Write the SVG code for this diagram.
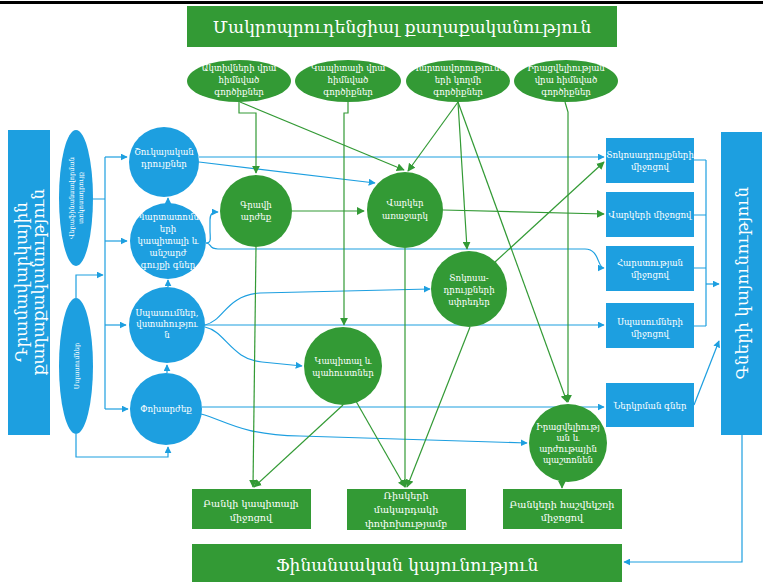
<svg xmlns="http://www.w3.org/2000/svg" width="763" height="582" viewBox="0 0 763 582">
<defs>
<style>
.b{fill:#1d9fe0}
.g{fill:#339a35}
.t{font-family:"DejaVu Serif","DejaVu Sans",sans-serif;fill:#fff;text-anchor:middle}
.s9{font-size:8.6px}
.s10{font-size:9.6px}
.s7{font-size:6.6px}
.big{font-size:17px}
.cb{stroke:#1d9fe0;fill:none;stroke-width:1.2}
.cg{stroke:#339a35;fill:none;stroke-width:1.2}
</style>
<marker id="ab" viewBox="0 0 10 10" refX="9" refY="5" markerWidth="7" markerHeight="7" markerUnits="userSpaceOnUse" orient="auto"><path d="M0,0L10,5L0,10z" fill="#1d9fe0"/></marker>
<marker id="ag" viewBox="0 0 10 10" refX="9" refY="5" markerWidth="8" markerHeight="8" markerUnits="userSpaceOnUse" orient="auto"><path d="M0,0L10,5L0,10z" fill="#339a35"/></marker>
</defs>
<rect x="0" y="1" width="763" height="3" fill="#000"/>

<g id="connectors">
<g class="cb">
<path d="M93,199H105M105,157V409"/>
<path d="M105,157H127" marker-end="url(#ab)"/>
<path d="M105,241H127" marker-end="url(#ab)"/>
<path d="M105,325H126" marker-end="url(#ab)"/>
<path d="M105,409H128" marker-end="url(#ab)"/>
<path d="M76,298V275H103" marker-end="url(#ab)"/>
<path d="M76,434V457H168V447" marker-end="url(#ab)"/>
<path d="M168,204V198" marker-end="url(#ab)"/>
<path d="M168,287V280" marker-end="url(#ab)"/>
<path d="M167,373V365" marker-end="url(#ab)"/>
<path d="M199,157H604" marker-end="url(#ab)"/>
<path d="M199,162L375,183" marker-end="url(#ab)"/>
<path d="M206,243C212,243 210,238 210,230V220C210,214 212,212 218,212" marker-end="url(#ab)"/>
<path d="M206,243C212,243 208,249 218,249L585,249C600,249 597,268 604,268" marker-end="url(#ab)"/>
<path d="M205,325C225,320 225,296 260,293L430,289" marker-end="url(#ab)"/>
<path d="M205,325H604" marker-end="url(#ab)"/>
<path d="M205,327C225,331 232,360 262,362L302,366" marker-end="url(#ab)"/>
<path d="M202,407H604" marker-end="url(#ab)"/>
<path d="M201,414C225,420 240,435 300,436L527,443" marker-end="url(#ab)"/>
<path d="M694,160H706M694,215H706M694,268H706M694,326H706M706,160V326"/>
<path d="M706,284H719" marker-end="url(#ab)"/>
<path d="M694,405L719,341" marker-end="url(#ab)"/>
<path d="M742,435V562H624" marker-end="url(#ab)"/>
</g>
<g class="cg">
<path d="M239,102V113H256V173" marker-end="url(#ag)"/>
<path d="M240,102L404,170" marker-end="url(#ag)"/>
<path d="M348,102V113H344V325" marker-end="url(#ag)"/>
<path d="M458,102L408,171" marker-end="url(#ag)"/>
<path d="M458,102L467,249" marker-end="url(#ag)"/>
<path d="M458,102L567,402" marker-end="url(#ag)"/>
<path d="M565,102L568,112V402" marker-end="url(#ag)"/>
<path d="M495,262L604,162" marker-end="url(#ag)"/>
<path d="M292,211H364" marker-end="url(#ag)"/>
<path d="M443,210L604,214" marker-end="url(#ag)"/>
<path d="M256,247L253,487" marker-end="url(#ag)"/>
<path d="M343,405L254,487" marker-end="url(#ag)"/>
<path d="M405,248V487" marker-end="url(#ag)"/>
<path d="M349,389L405,487" marker-end="url(#ag)"/>
<path d="M470,327L407,487" marker-end="url(#ag)"/>
<path d="M562,481V488" marker-end="url(#ag)"/>
</g>
</g>

<g id="macro-policy"><rect class="g" x="187" y="6" width="430" height="41"/><text class="t big" x="402" y="33">Մակրոպրուդենցիալ քաղաքականություն</text></g>

<g id="asset-tools"><ellipse class="g" cx="239" cy="81" rx="52" ry="21"/><text class="t s9" x="239" y="71">Ակտիվների վրա</text><text class="t s9" x="239" y="83">հիմնված</text><text class="t s9" x="239" y="95">գործիքներ</text></g>
<g id="capital-tools"><ellipse class="g" cx="348" cy="81" rx="53" ry="21"/><text class="t s9" x="348" y="71">Կապիտալի վրա</text><text class="t s9" x="348" y="83">հիմնված</text><text class="t s9" x="348" y="95">գործիքներ</text></g>
<g id="liability-tools"><ellipse class="g" cx="458" cy="81" rx="52" ry="21"/><text class="t s9" x="458" y="71">Պարտավորությունն</text><text class="t s9" x="458" y="83">երի կողմի</text><text class="t s9" x="458" y="95">գործիքներ</text></g>
<g id="liquidity-tools"><ellipse class="g" cx="566" cy="81" rx="52" ry="21"/><text class="t s9" x="566" y="71">Իրացվելիության</text><text class="t s9" x="566" y="83">վրա հիմնված</text><text class="t s9" x="566" y="95">գործիքներ</text></g>

<g id="monetary-policy"><rect class="b" x="8" y="130" width="42" height="305"/><g transform="translate(29,282) rotate(-90)"><text class="t big" x="0" y="-2">Դրամավարկային</text><text class="t big" x="0" y="15">քաղաքականություն</text></g></g>
<g id="refinancing-rate"><ellipse class="b" cx="76" cy="198" rx="17" ry="68"/><g transform="translate(76,198) rotate(-90)"><text class="t s7" x="0" y="-2">Վերաֆինանսավորման</text><text class="t s7" x="0" y="7">տոկոսադրույք</text></g></g>
<g id="expectations"><ellipse class="b" cx="76" cy="366" rx="17" ry="68"/><g transform="translate(76,366) rotate(-90)"><text class="t s7" x="0" y="2.5">Սպասումներ</text></g></g>

<g id="market-rates"><circle class="b" cx="164" cy="162" r="35"/><text class="t s9" x="164" y="155">Շուկայական</text><text class="t s9" x="164" y="167">դրույքներ</text></g>
<g id="asset-prices"><circle class="b" cx="168" cy="241" r="38"/><text class="t s9" x="168" y="220">Պարտատոմս</text><text class="t s9" x="168" y="232">երի</text><text class="t s9" x="168" y="244">կապիտալի և</text><text class="t s9" x="168" y="256">անշարժ</text><text class="t s9" x="168" y="268">գույքի գներ</text></g>
<g id="expectations-confidence"><circle class="b" cx="167" cy="325" r="38"/><text class="t s9" x="167" y="316">Սպասումներ,</text><text class="t s9" x="167" y="327">վստահությու</text><text class="t s9" x="167" y="338">ն</text></g>
<g id="exchange-rate"><circle class="b" cx="166" cy="409" r="36"/><text class="t s9" x="166" y="412">Փոխարժեք</text></g>

<g id="collateral-value"><circle class="g" cx="256" cy="211" r="36"/><text class="t s9" x="256" y="208">Գրավի</text><text class="t s9" x="256" y="220">արժեք</text></g>
<g id="loan-supply"><circle class="g" cx="405" cy="210" r="38"/><text class="t s9" x="405" y="206">Վարկեր</text><text class="t s9" x="405" y="219">առաջարկ</text></g>
<g id="rate-spreads"><circle class="g" cx="469" cy="289" r="38"/><text class="t s9" x="469" y="281">Տոկոսա-</text><text class="t s9" x="469" y="293">դրույքների</text><text class="t s9" x="469" y="305">սփրեդեր</text></g>
<g id="capital-reserves"><circle class="g" cx="343" cy="366" r="39"/><text class="t s9" x="343" y="364">Կապիտալ և</text><text class="t s9" x="343" y="376">պահուստներ</text></g>
<g id="liquidity-reserves"><circle class="g" cx="568" cy="443" r="39"/><text class="t s9" x="568" y="430">Իրացվելիությ</text><text class="t s9" x="568" y="441">ան և</text><text class="t s9" x="568" y="452">արժութային</text><text class="t s9" x="568" y="463">պաշտոնեն</text></g>

<g id="via-rates"><rect class="b" x="606" y="138" width="88" height="45"/><text class="t s9" x="650" y="158">Տոկոսադրույքների</text><text class="t s9" x="650" y="170">միջոցով</text></g>
<g id="via-loans"><rect class="b" x="606" y="192" width="88" height="45"/><text class="t s9" x="650" y="218">Վարկերի միջոցով</text></g>
<g id="via-wealth"><rect class="b" x="606" y="246" width="88" height="45"/><text class="t s9" x="650" y="266">Հարստության</text><text class="t s9" x="650" y="278">միջոցով</text></g>
<g id="via-expectations"><rect class="b" x="606" y="303" width="88" height="45"/><text class="t s9" x="650" y="325">Սպասումների</text><text class="t s9" x="650" y="337">միջոցով</text></g>
<g id="import-prices"><rect class="b" x="606" y="383" width="88" height="44"/><text class="t s9" x="650" y="409">Ներկրման գներ</text></g>

<g id="price-stability"><rect class="b" x="721" y="132" width="41" height="303"/><g transform="translate(742,283) rotate(-90)"><text class="t big" x="0" y="6">Գների կայունություն</text></g></g>

<g id="via-bank-capital"><rect class="g" x="192" y="489" width="119" height="40"/><text class="t s10" x="251" y="507">Բանկի կապիտալի</text><text class="t s10" x="251" y="521">միջոցով</text></g>
<g id="risk-level"><rect class="g" x="347" y="489" width="119" height="41"/><text class="t s10" x="406" y="499">Ռիսկերի</text><text class="t s10" x="406" y="513">մակարդակի</text><text class="t s10" x="406" y="527">փոփոխությամբ</text></g>
<g id="via-balance-sheets"><rect class="g" x="503" y="489" width="119" height="40"/><text class="t s10" x="562" y="508">Բանկերի հաշվեկշռի</text><text class="t s10" x="562" y="521">միջոցով</text></g>

<g id="financial-stability"><rect class="g" x="192" y="544" width="430" height="38"/><text class="t big" x="407" y="571">Ֆինանսական կայունություն</text></g>
</svg>
